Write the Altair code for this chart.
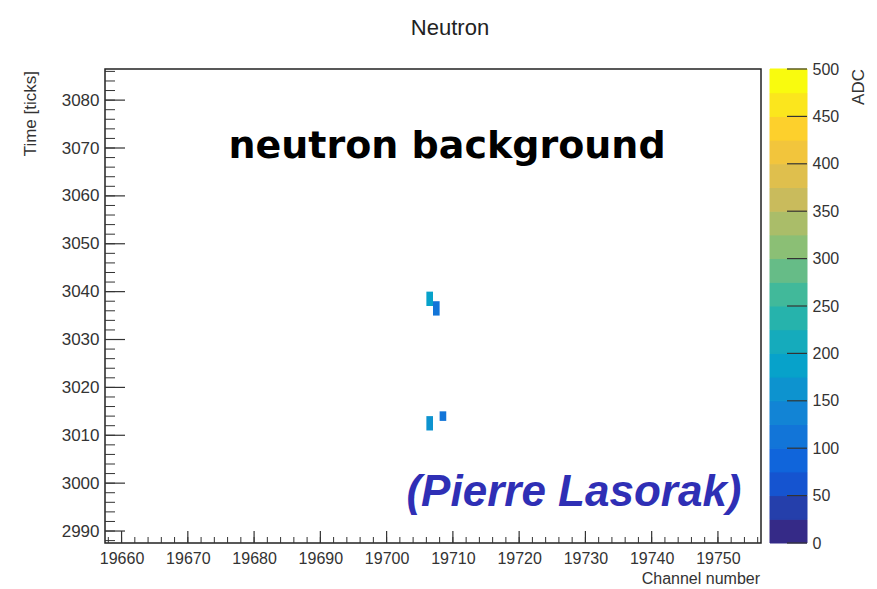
import altair as alt
import pandas as pd

# ---- hit data: wire channel, time window (ticks) and ADC charge ----
hit_channel = [19706, 19707, 19706, 19708]
hit_t_start = [3037, 3035, 3011, 3013]
hit_t_end = [3040, 3038, 3014, 3015]
hit_adc = [190, 115, 160, 105]

# axis ranges and labelled ticks
x_range = [19657.5, 19756.5]
y_range = [2987.5, 3086.5]
x_major = [19660, 19670, 19680, 19690, 19700, 19710, 19720, 19730, 19740, 19750]
y_major = [2990, 3000, 3010, 3020, 3030, 3040, 3050, 3060, 3070, 3080]
x_minor = list(range(19658, 19757, 2))
y_minor = list(range(2988, 3087, 2))

# colour-bar contour levels (ADC)
adc_levels = [0, 25, 50, 75, 100, 125, 150, 175, 200, 225,
              250, 275, 300, 325, 350, 375, 400, 425, 450, 475]
adc_ticks = [0, 50, 100, 150, 200, 250, 300, 350, 400, 450, 500]

# ROOT "bird" palette stops
stops = [0.0, 0.125, 0.25, 0.375, 0.5, 0.625, 0.75, 0.875, 1.0]
red = [0.2082, 0.0592, 0.0780, 0.0232, 0.1802, 0.5301, 0.8186, 0.9956, 0.9764]
green = [0.1664, 0.3599, 0.5041, 0.6419, 0.7178, 0.7492, 0.7328, 0.7862, 0.9832]
blue = [0.5293, 0.8684, 0.8385, 0.7914, 0.6425, 0.4662, 0.3499, 0.1968, 0.0539]


def bird(t):
    for i in range(len(stops) - 1):
        if t <= stops[i + 1]:
            f = (t - stops[i]) / (stops[i + 1] - stops[i])
            c = [a + (b - a) * f for a, b in ((red[i], red[i + 1]),
                                              (green[i], green[i + 1]),
                                              (blue[i], blue[i + 1]))]
            return "#%02x%02x%02x" % tuple(int(round(v * 255)) for v in c)
    return "#f9fb0e"


n_bands = len(adc_levels)
band_colors = [bird(i / (n_bands - 1)) for i in range(n_bands)]
color_scale = alt.Scale(type="quantize", domain=[0, 500], range=band_colors)

W, H = 656, 474
CB_W = 37
FONT = "Liberation Sans"
LABEL = "#333333"

hits = pd.DataFrame({
    "c0": hit_channel,
    "c1": [c + 1 for c in hit_channel],
    "t0": hit_t_start,
    "t1": hit_t_end,
    "adc": hit_adc,
})

xs = alt.Scale(domain=x_range, nice=False, zero=False)
ys = alt.Scale(domain=y_range, nice=False, zero=False)

x_axis = alt.Axis(values=x_major, format="d", labelFontSize=16, labelColor=LABEL,
                  labelFont=FONT, ticks=False, domain=False, grid=False,
                  labelPadding=7, labelOverlap=False, labelFlush=False, title=None)
y_axis = alt.Axis(values=y_major, format="d", labelFontSize=17, labelColor=LABEL,
                  labelFont=FONT, ticks=False, domain=False, grid=False,
                  labelPadding=6, labelOverlap=False, title=None)

cells = alt.Chart(hits).mark_rect().encode(
    x=alt.X("c0:Q", scale=xs, axis=x_axis),
    x2="c1:Q",
    y=alt.Y("t0:Q", scale=ys, axis=y_axis),
    y2="t1:Q",
    color=alt.Color("adc:Q", scale=color_scale, legend=None),
)

# ROOT-style inward ticks
xmaj = alt.Chart(pd.DataFrame({"c0": x_major})).mark_rule(color="#333", strokeWidth=1.2).encode(
    x=alt.X("c0:Q", scale=xs, axis=x_axis), y=alt.value(H), y2=alt.value(H - 12))
xmin = alt.Chart(pd.DataFrame({"c0": x_minor})).mark_rule(color="#333", strokeWidth=1).encode(
    x=alt.X("c0:Q", scale=xs, axis=x_axis), y=alt.value(H), y2=alt.value(H - 6))
ymaj = alt.Chart(pd.DataFrame({"t0": y_major})).mark_rule(color="#333", strokeWidth=1.2).encode(
    y=alt.Y("t0:Q", scale=ys, axis=y_axis), x=alt.value(0), x2=alt.value(20))
ymin = alt.Chart(pd.DataFrame({"t0": y_minor})).mark_rule(color="#333", strokeWidth=1).encode(
    y=alt.Y("t0:Q", scale=ys, axis=y_axis), x=alt.value(0), x2=alt.value(10))

title_txt = alt.Chart(pd.DataFrame({"t": ["Neutron"]})).mark_text(
    font=FONT, fontSize=22, color="#222", align="center", baseline="middle"
).encode(text="t:N", x=alt.value(345), y=alt.value(-41))

ytitle = alt.Chart(pd.DataFrame({"t": ["Time [ticks]"]})).mark_text(
    font=FONT, fontSize=17, color=LABEL, angle=270, align="right", baseline="middle"
).encode(text="t:N", x=alt.value(-74), y=alt.value(2))

xtitle = alt.Chart(pd.DataFrame({"t": ["Channel number"]})).mark_text(
    font=FONT, fontSize=16, color=LABEL, align="right", baseline="middle"
).encode(text="t:N", x=alt.value(655), y=alt.value(510))

banner = alt.Chart(pd.DataFrame({"t": ["neutron background"]})).mark_text(
    font="DejaVu Sans", fontSize=38, fontWeight="bold", color="#000", align="center",
    baseline="alphabetic"
).encode(text="t:N", x=alt.value(342), y=alt.value(89))

credit = alt.Chart(pd.DataFrame({"t": ["(Pierre Lasorak)"]})).mark_text(
    font=FONT, fontSize=44, fontWeight="bold", fontStyle="italic", color="#2f2fb5",
    align="center", baseline="alphabetic"
).encode(text="t:N", x=alt.value(469), y=alt.value(437))

main = alt.layer(
    cells, xmin, xmaj, ymin, ymaj, title_txt, ytitle, xtitle, banner, credit
).properties(
    width=W, height=H,
    view=alt.ViewBackground(stroke="#222", strokeWidth=1.5, fill="white"),
)

# colour bar
bands = pd.DataFrame({
    "lo": adc_levels,
    "hi": [v + 25 for v in adc_levels],
    "mid": [v + 12.5 for v in adc_levels],
})
cs = alt.Scale(domain=[0, 500], nice=False, zero=False)
cb_axis = alt.Axis(values=adc_ticks, orient="right", labelFontSize=16, labelColor=LABEL,
                   labelFont=FONT, ticks=False, domain=False, grid=False, labelPadding=5,
                   labelOverlap=False, labelFlush=False, title=None)
cb_rect = alt.Chart(bands).mark_rect().encode(
    y=alt.Y("lo:Q", scale=cs, axis=cb_axis),
    y2="hi:Q",
    color=alt.Color("mid:Q", scale=color_scale, legend=None),
    stroke=alt.Color("mid:Q", scale=color_scale, legend=None),
)
cb_ticks = alt.Chart(pd.DataFrame({"lo": adc_ticks})).mark_rule(color="#333", strokeWidth=1.2).encode(
    y=alt.Y("lo:Q", scale=cs, axis=cb_axis), x=alt.value(CB_W - 20), x2=alt.value(CB_W))
cb_title = alt.Chart(pd.DataFrame({"t": ["ADC"]})).mark_text(
    font=FONT, fontSize=17, color=LABEL, angle=270, align="right", baseline="middle"
).encode(text="t:N", x=alt.value(89), y=alt.value(0))

cbar = alt.layer(cb_rect, cb_ticks, cb_title).properties(
    width=CB_W, height=H,
    view=alt.ViewBackground(strokeOpacity=0),
)

chart = alt.hconcat(main, cbar, spacing=7).properties(
    padding={"left": 21, "top": 16, "right": 5, "bottom": 3},
    background="white",
).configure_view(stroke="#222")

chart.save("out.html", embed_options={"renderer": "svg", "actions": False})
